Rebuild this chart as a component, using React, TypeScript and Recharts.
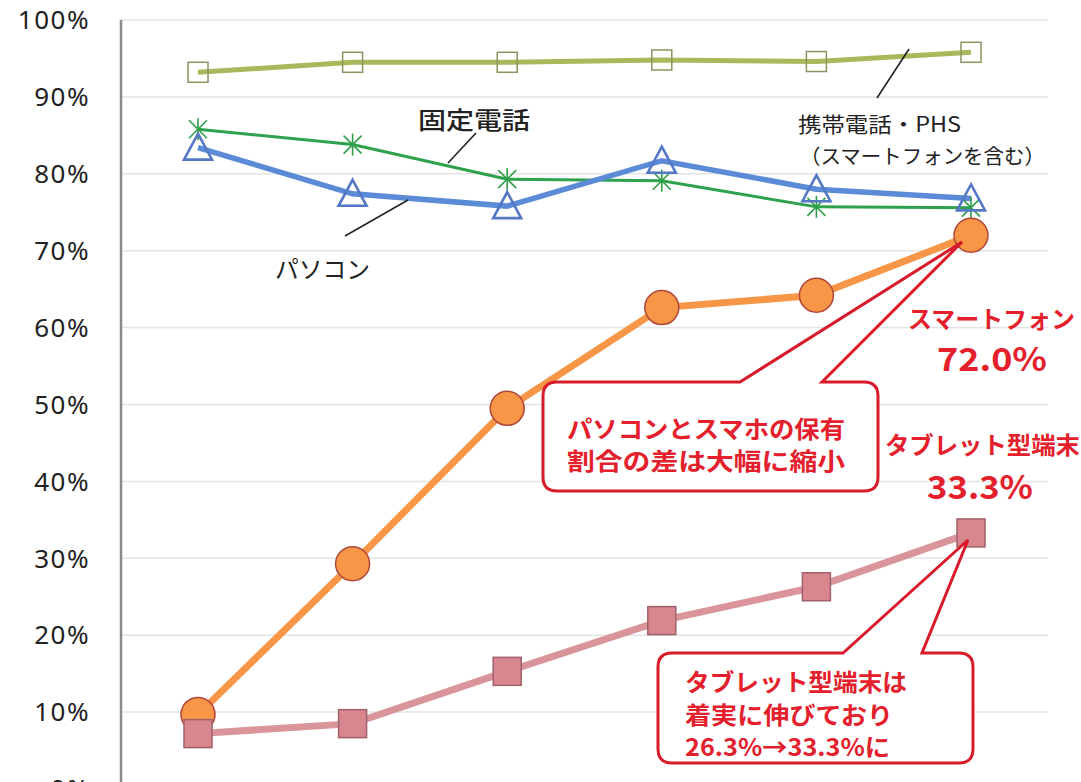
import React from 'react';
import { LineChart, Line, XAxis, YAxis, CartesianGrid } from 'recharts';

const years = ['2010', '2011', '2012', '2013', '2014', '2015'];
const mobile = [93.2, 94.5, 94.5, 94.8, 94.6, 95.8];
const fixedPhone = [85.8, 83.8, 79.3, 79.1, 75.7, 75.6];
const pc = [83.4, 77.4, 75.8, 81.7, 78.0, 76.8];
const smartphone = [9.7, 29.3, 49.5, 62.6, 64.2, 72.0];
const tablet = [7.2, 8.5, 15.3, 21.9, 26.3, 33.3];
const yTicks = [0, 10, 20, 30, 40, 50, 60, 70, 80, 90, 100];

const data = years.map((y, i) => ({
  year: y,
  mobile: mobile[i],
  fixedPhone: fixedPhone[i],
  pc: pc[i],
  smartphone: smartphone[i],
  tablet: tablet[i],
}));

const JP = '"Noto Sans CJK JP", "Noto Sans", sans-serif';
const RED = '#e3202b';
const LA = 'spacingAndGlyphs';

const hollowSquare = (p: any) => (
  <rect key={`ms${p.index}`} x={p.cx - 10} y={p.cy - 10} width={20} height={20} fill="none" stroke="#8f9160" strokeWidth={1.5} />
);
const asterisk = (p: any) => (
  <g key={`fa${p.index}`} stroke="#2e9e48" strokeWidth={1.6}>
    <line x1={p.cx} y1={p.cy - 11} x2={p.cx} y2={p.cy + 11} />
    <line x1={p.cx - 9} y1={p.cy - 9} x2={p.cx + 9} y2={p.cy + 9} />
    <line x1={p.cx - 9} y1={p.cy + 9} x2={p.cx + 9} y2={p.cy - 9} />
  </g>
);
const triangle = (p: any) => (
  <polygon key={`pt${p.index}`} points={`${p.cx},${p.cy - 14} ${p.cx + 14},${p.cy + 12} ${p.cx - 14},${p.cy + 12}`} fill="none" stroke="#5477c6" strokeWidth={2.6} strokeLinejoin="miter" />
);
const circle = (p: any) => (
  <circle key={`sc${p.index}`} cx={p.cx} cy={p.cy} r={17} fill="#f79646" stroke="#b0473a" strokeWidth={1.5} />
);
const filledSquare = (p: any) => (
  <rect key={`ts${p.index}`} x={p.cx - 14} y={p.cy - 14} width={28} height={28} fill="#d8878f" stroke="#a0616a" strokeWidth={1.5} />
);

const callout = (x1: number, y1: number, x2: number, y2: number, b1: number, b2: number, tx: number, ty: number, r: number) =>
  `M ${x1 + r} ${y1} L ${b1} ${y1} L ${tx} ${ty} L ${b2} ${y1} L ${x2 - r} ${y1} Q ${x2} ${y1} ${x2} ${y1 + r} L ${x2} ${y2 - r} Q ${x2} ${y2} ${x2 - r} ${y2} L ${x1 + r} ${y2} Q ${x1} ${y2} ${x1} ${y2 - r} L ${x1} ${y1 + r} Q ${x1} ${y1} ${x1 + r} ${y1} Z`;

export default function App() {
  return (
    <div style={{ position: 'absolute', top: 0, left: 0, width: 1081, height: 782, overflow: 'hidden', background: '#fff' }}>
      <LineChart width={1081} height={830} data={data} margin={{ top: 20, right: 33, bottom: 41, left: 0 }}>
        <CartesianGrid horizontal vertical={false} stroke="#e4e4e4" strokeWidth={1.5} />
        <XAxis dataKey="year" hide scale="point" padding={{ left: 77, right: 77 }} />
        <YAxis
          width={121}
          domain={[0, 100]}
          ticks={yTicks}
          interval={0}
          tickFormatter={(v: number) => `${v}%`}
          axisLine={{ stroke: '#8a8a8a', strokeWidth: 2.5 }}
          tickLine={false}
          tickSize={6}
          tickMargin={25}
          tick={{ fontSize: 26, fill: '#222', fontFamily: '"Noto Sans", sans-serif', letterSpacing: 1.5 }}
        />
        <Line dataKey="mobile" stroke="#a8b95c" strokeWidth={5} dot={hollowSquare} activeDot={false} isAnimationActive={false} />
        <Line dataKey="fixedPhone" stroke="#2ea14c" strokeWidth={3} dot={asterisk} activeDot={false} isAnimationActive={false} />
        <Line dataKey="pc" stroke="#5b8bd6" strokeWidth={5.5} dot={triangle} activeDot={false} isAnimationActive={false} />
        <Line dataKey="smartphone" stroke="#f79646" strokeWidth={7} dot={circle} activeDot={false} isAnimationActive={false} />
        <Line dataKey="tablet" stroke="#d9959a" strokeWidth={7} dot={filledSquare} activeDot={false} isAnimationActive={false} />
      </LineChart>
      <svg width={1081} height={782} style={{ position: 'absolute', top: 0, left: 0, pointerEvents: 'none' }}>
        <g stroke="#222" strokeWidth={1.6}>
          <line x1={476} y1={133} x2={448} y2={163} />
          <line x1={345} y1={236} x2={408} y2={200} />
          <line x1={909} y1={49} x2={877} y2={98} />
        </g>
        <g fontFamily={JP} fill="#222" dominantBaseline="central">
          <text x={418} y={118} fontSize={24} fontWeight={500} textLength={112} lengthAdjust={LA}>固定電話</text>
          <text x={275} y={267} fontSize={24} textLength={95} lengthAdjust={LA}>パソコン</text>
          <text x={798} y={123} fontSize={21} textLength={163} lengthAdjust={LA}>携帯電話・PHS</text>
          <text x={800} y={155} fontSize={20.5} textLength={245} lengthAdjust={LA}>（スマートフォンを含む）</text>
        </g>
        <path d={callout(543, 382, 878, 491, 740, 822, 962, 242, 14)} fill="#fff" stroke="#d81a2a" strokeWidth={3} strokeLinejoin="miter" />
        <path d={callout(658, 653, 973, 763, 843, 922, 968, 540, 14)} fill="#fff" stroke="#d81a2a" strokeWidth={3} strokeLinejoin="miter" />
        <g fontFamily={JP} fill={RED} fontWeight={700} dominantBaseline="central">
          <text x={567} y={427} fontSize={24} textLength={278} lengthAdjust={LA}>パソコンとスマホの保有</text>
          <text x={567} y={459} fontSize={24} textLength={278} lengthAdjust={LA}>割合の差は大幅に縮小</text>
          <text x={685} y={680} fontSize={24} textLength={222} lengthAdjust={LA}>タブレット型端末は</text>
          <text x={685} y={713} fontSize={24} textLength={208} lengthAdjust={LA}>着実に伸びており</text>
          <text x={685} y={745} fontSize={24} textLength={205} lengthAdjust={LA}>26.3%→33.3%に</text>
          <text x={908} y={317} fontSize={24} textLength={167} lengthAdjust={LA}>スマートフォン</text>
          <text x={937} y={357} fontSize={32} textLength={110} lengthAdjust={LA}>72.0%</text>
          <text x={885} y={443} fontSize={24} textLength={195} lengthAdjust={LA}>タブレット型端末</text>
          <text x={927} y={485} fontSize={32} textLength={106} lengthAdjust={LA}>33.3%</text>
        </g>
      </svg>
    </div>
  );
}
